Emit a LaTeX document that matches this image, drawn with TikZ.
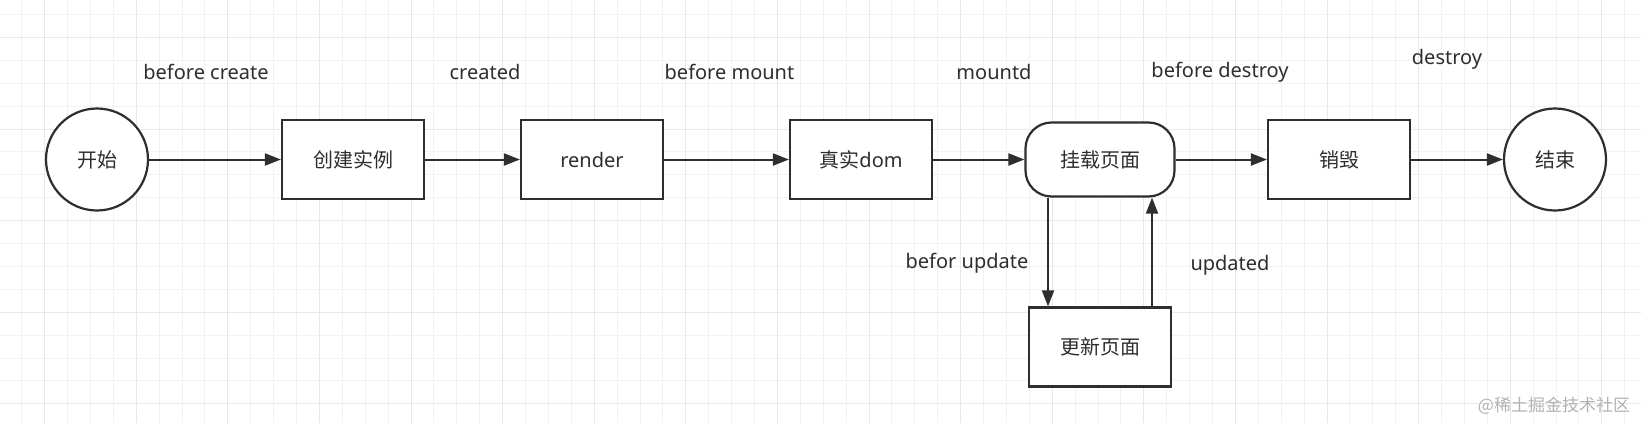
\documentclass[tikz,border=0pt]{standalone}
\usepackage{fontspec}
\setmainfont{Noto Sans}
\newfontfamily\cjk{Noto Sans CJK SC}
\usetikzlibrary{arrows.meta}
\definecolor{linegray}{HTML}{2E2E2E}
\definecolor{gridminor}{HTML}{F2F2F2}
\definecolor{gridmajor}{HTML}{E8E8E8}

\begin{document}
\begin{tikzpicture}[x=1pt, y=-1pt,
  every node/.style={font=\fontsize{20}{24}\selectfont, text=linegray},
  state/.style={draw=linegray, line width=2.2pt, fill=white, circle, minimum size=102pt, inner sep=0pt},
  stepbox/.style={draw=linegray, line width=2.2pt, fill=white, minimum width=142pt, minimum height=79pt, inner sep=0pt},
  pagebox/.style={stepbox, rounded corners=26pt, minimum width=149pt, minimum height=74pt},
  flow/.style={draw=linegray, line width=2pt, -{Triangle[length=16pt, width=12pt]}}]

\newcommand{\gridstep}{22.9}
\newcommand{\gridxstart}{21.7}
\newcommand{\gridystart}{14.5}
\newcommand{\loopshift}{52}

% background and grid
\useasboundingbox (0,0) rectangle (1641,423);
\fill[white] (0,0) rectangle (1641,423);
\begin{scope}
  \clip (0,0) rectangle (1641,423);
  \foreach \i in {0,...,71}
    \draw[gridminor, line width=1pt] ({\gridxstart + \gridstep * \i}, 0) -- ++(0,423);
  \foreach \j in {0,...,17}
    \draw[gridminor, line width=1pt] (0, {\gridystart + \gridstep * \j}) -- ++(1641,0);
  \foreach \i in {1,5,...,69}
    \draw[gridmajor, line width=1pt] ({\gridxstart + \gridstep * \i}, 0) -- ++(0,423);
  \foreach \j in {1,5,...,17}
    \draw[gridmajor, line width=1pt] (0, {\gridystart + \gridstep * \j}) -- ++(1641,0);
\end{scope}

% main flow
\node[state] (start) at (97,159.5) {\cjk 开始};
\node[stepbox] (create) at (353,159.5) {\cjk 创建实例};
\node[stepbox] (render) at (592,159.5) {render};
\node[stepbox] (realdom) at (861,159.5) {{\cjk 真实}dom};
\node[pagebox] (mount) at (1100,159.5) {\cjk 挂载页面};
\node[stepbox] (destroy) at (1339,159.5) {\cjk 销毁};
\node[state] (finish) at (1555,159.5) {\cjk 结束};

\draw[flow] (start.east) -- (create.west);
\draw[flow] (create.east) -- (render.west);
\draw[flow] (render.east) -- (realdom.west);
\draw[flow] (realdom.east) -- (mount.west);
\draw[flow] (mount.east) -- (destroy.west);
\draw[flow] (destroy.east) -- (finish.west);

% hook names
\node (lblbeforecreate) at (206,72) {before create};
\node (lblcreated) at (485,72) {created};
\node (lblbeforemount) at (729.5,72) {before mount};
\node (lblmounted) at (994,72) {mountd};
\node (lblbeforedestroy) at (1220,72) {before destroy};
\node (lbldestroy) at (1447,59) {destroy};

% update loop
\node[stepbox] (update) at (1100,347) {\cjk 更新页面};
\draw[flow] ([xshift=-\loopshift pt]mount.south) -- ([xshift=-\loopshift pt]update.north);
\draw[flow] ([xshift=\loopshift pt]update.north) -- ([xshift=\loopshift pt]mount.south);
\node (lblbeforeupdate) at (967,263) {befor update};
\node (lblupdated) at (1230,265) {updated};

% watermark
\node[font=\cjk\fontsize{17}{20}\selectfont, text=black!30] (mark) at (1554,406) {@稀土掘金技术社区};

\end{tikzpicture}
\end{document}
